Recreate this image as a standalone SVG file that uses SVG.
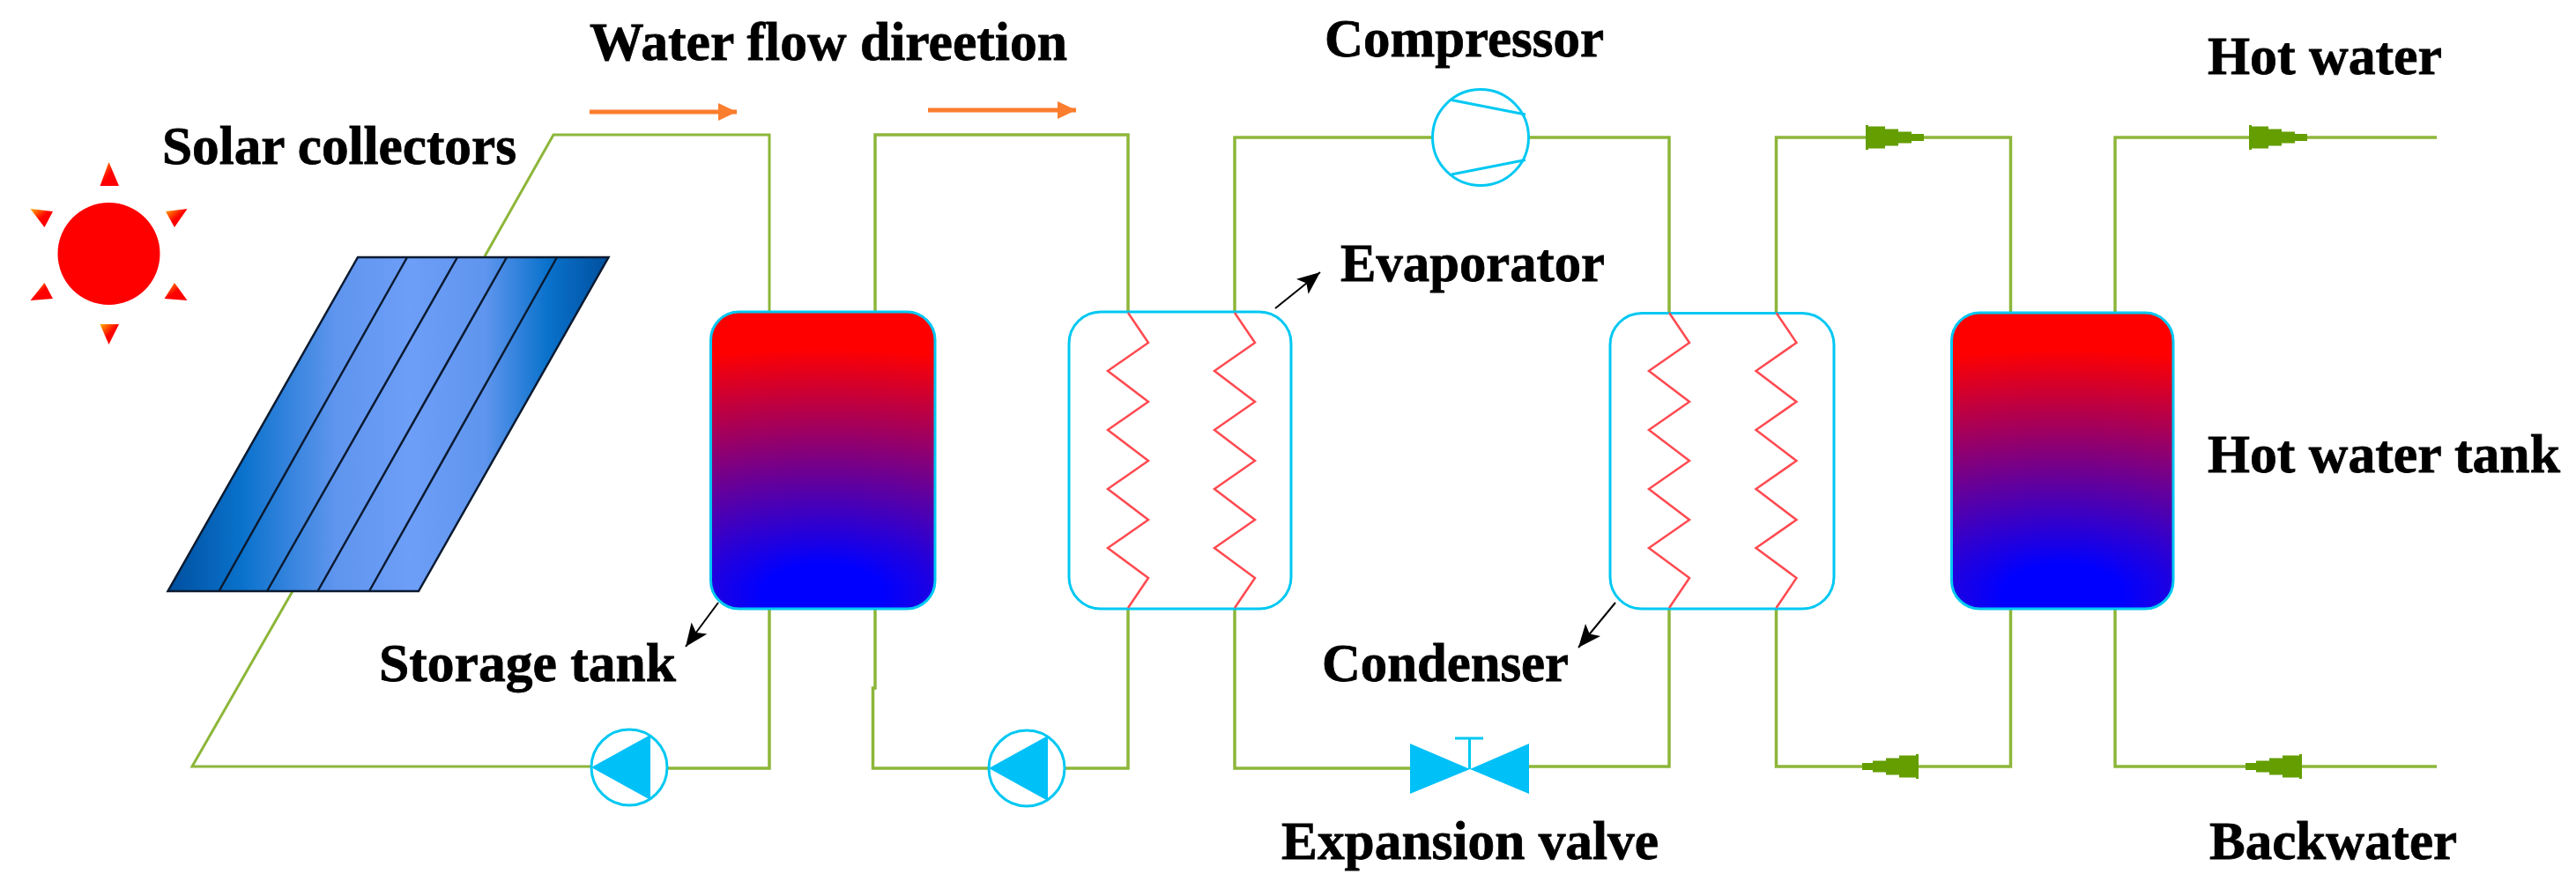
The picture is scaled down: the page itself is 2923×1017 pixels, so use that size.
<svg xmlns="http://www.w3.org/2000/svg" width="2923" height="1017" viewBox="0 0 2923 1017">
<style>
.pipe{fill:none;stroke:#8db63a;stroke-width:3.5;stroke-linejoin:miter}
.leader{fill:none;stroke:#000;stroke-width:2;marker-end:url(#blackHead)}
.flow{fill:none;stroke:#fb7d2e;stroke-width:5;marker-end:url(#orangeHead)}
.cyan{fill:none;stroke:#00c8f2;stroke-width:3}
.fillc{fill:#00c0f8;stroke:none}
.tank{fill:url(#tankGrad);stroke:#00c8f2;stroke-width:3}
.zig{fill:none;stroke:#ff4a50;stroke-width:2.5}
.valve{fill:#649e00;stroke:none}
.ray{fill:url(#rayGrad)}
.pline{fill:none;stroke:#0b1a30;stroke-width:2.5}
text{font-family:"Liberation Serif","Times New Roman",serif;font-weight:bold;font-size:62px;fill:#000;stroke:#000;stroke-width:.8}
</style>
<defs>
<marker id="blackHead" markerUnits="userSpaceOnUse" markerWidth="30" markerHeight="30" refX="26" refY="11" orient="auto"><path d="M0 0L26 11L0 22L6 11Z" fill="#000"/></marker>
<marker id="orangeHead" markerUnits="userSpaceOnUse" markerWidth="24" markerHeight="24" refX="21" refY="10" orient="auto"><path d="M0 0L21 10L0 20Z" fill="#fb7d2e"/></marker>
<radialGradient id="tankGrad" cx="0" cy="0" r="0.9" gradientTransform="translate(.5 .95) scale(2.7 1)">
<stop offset=".11" stop-color="#0000ff"/><stop offset=".92" stop-color="#ff0000"/>
</radialGradient>
<linearGradient id="panelGrad" gradientUnits="userSpaceOnUse" x1="190" y1="0" x2="691" y2="0">
<stop offset="0" stop-color="#004f9e"/><stop offset=".17" stop-color="#0a72cc"/><stop offset=".38" stop-color="#5f95ee"/><stop offset=".55" stop-color="#6d9ef8"/><stop offset=".72" stop-color="#5f95ee"/><stop offset=".86" stop-color="#0a72cc"/><stop offset="1" stop-color="#004f9e"/>
</linearGradient>
<linearGradient id="rayGrad" x1="0" y1="0" x2="1" y2="1"><stop offset="0" stop-color="#ffb000"/><stop offset=".5" stop-color="#ff0000"/><stop offset="1" stop-color="#ff0000"/></linearGradient>
<path id="zigzag" class="zig" d="M0 355L23 389L-23 421L23 456L-23 488L23 523L-23 555L23 590L-23 622L23 656L0 690"/>
<path id="checkR" class="valve" d="M0 -14L3 -14V-12.500H22V-9.500H37V-6.500H52V-4H66V4H52V6.500H37V9.500H22V12.500H3V14H0Z"/>
<path id="checkL" class="valve" d="M0 -14L-3 -14V-12.500H-22V-9.500H-37V-6.500H-52V-4H-64V4H-52V6.500H-37V9.500H-22V12.500H-3V14H0Z"/>
<g id="pumpShape"><circle class="cyan" r="43"/><path class="fillc" d="M-43 0L24 -37L24 37Z"/></g>
</defs>
<rect width="2923" height="1017" fill="#fff"/>

<g id="connectors">
<path class="pipe" style="stroke-width:3" d="M550 291L628 153H873V354"/>
<path class="pipe" style="stroke-width:3" d="M332 671L218 870H671"/>
<path class="pipe" d="M757 872H873V691"/>
<path class="pipe" d="M993 354V153H1280V354"/>
<path class="pipe" d="M993 691V781H990.500V872H1122"/>
<path class="pipe" d="M1209 872H1280V691"/>
<path class="pipe" d="M1401 354V156H1626"/>
<path class="pipe" d="M1735 156H1894V355"/>
<path class="pipe" d="M1401 691V872H1600"/>
<path class="pipe" d="M1735 870H1894V691"/>
<path class="pipe" d="M2015.500 355V156H2281.500V355"/>
<path class="pipe" d="M2015.500 691V870H2281.500V691"/>
<path class="pipe" d="M2400 355V156H2765"/>
<path class="pipe" d="M2400 691V870H2765"/>
<path class="leader" d="M815 684L778 734"/>
<path class="leader" d="M1447 350L1498 309"/>
<path class="leader" d="M1833 684L1791 735"/>
<path class="flow" d="M669 127H836"/>
<path class="flow" d="M1053 125H1221"/>
</g>

<g id="sun">
<circle cx="123.500" cy="288" r="58" fill="#ff0000"/>
<path class="ray" d="M123.500 184L113.500 211H135Z"/>
<path class="ray" d="M34.500 237L60 240L50.500 258Z"/>
<path class="ray" d="M212.500 237L188 240L198 258Z"/>
<path class="ray" d="M34.500 341L60 339L50.500 321Z"/>
<path class="ray" d="M212.500 341L186.500 339L198 321Z"/>
<path class="ray" d="M123.500 391L113.500 368H135Z"/>
</g>

<g id="solar-collectors">
<path fill="url(#panelGrad)" stroke="#0b1a30" stroke-width="2.500" d="M406 292H690.500L475 671H190.500Z"/>
<path class="pline" d="M462 292L248.500 671M519 292L303 671M575 292L360.500 671M632 292L419 671"/>
<text x="184" y="186" textLength="402" lengthAdjust="spacingAndGlyphs">Solar collectors</text>
</g>

<g id="storage-tank">
<rect class="tank" x="806.500" y="354" width="254.500" height="337" rx="32"/>
<text x="430" y="773" textLength="337" lengthAdjust="spacingAndGlyphs">Storage tank</text>
</g>

<g id="pump-1"><use href="#pumpShape" x="714" y="871"/></g>
<g id="pump-2"><use href="#pumpShape" x="1165" y="872"/></g>

<g id="evaporator">
<rect class="cyan" x="1213" y="354" width="252" height="337" rx="36"/>
<use href="#zigzag" x="1280"/>
<use href="#zigzag" x="1401"/>
<text x="1521" y="319" textLength="300" lengthAdjust="spacingAndGlyphs">Evaporator</text>
</g>

<g id="compressor">
<circle class="cyan" cx="1680" cy="156" r="54.500"/>
<path class="cyan" d="M1647 113.500L1731 130M1647 198L1731 181.500"/>
<text x="1503" y="64" textLength="317" lengthAdjust="spacingAndGlyphs">Compressor</text>
</g>

<g id="expansion-valve">
<path class="fillc" d="M1600 844L1668 873L1735 844V901L1668 873L1600 901Z"/>
<path class="cyan" d="M1667.500 873V838M1651 838H1683"/>
<text x="1454" y="975" textLength="428" lengthAdjust="spacingAndGlyphs">Expansion valve</text>
</g>

<g id="condenser">
<rect class="cyan" x="1827" y="355.500" width="254" height="335.500" rx="36"/>
<use href="#zigzag" x="1894"/>
<use href="#zigzag" x="2015.500"/>
<text x="1500" y="773" textLength="280" lengthAdjust="spacingAndGlyphs">Condenser</text>
</g>

<g id="hot-water-tank">
<rect class="tank" x="2214.500" y="355" width="251.500" height="336" rx="32"/>
<text x="2505" y="536" textLength="400" lengthAdjust="spacingAndGlyphs">Hot water tank</text>
</g>

<g id="check-valves">
<use href="#checkR" x="2117" y="156"/>
<use href="#checkR" x="2552" y="156"/>
<use href="#checkL" x="2177" y="870"/>
<use href="#checkL" x="2612" y="870"/>
</g>

<g id="labels">
<text x="669" y="68" textLength="542" lengthAdjust="spacingAndGlyphs">Water flow direetion</text>
<text x="2505" y="84" textLength="266" lengthAdjust="spacingAndGlyphs">Hot water</text>
<text x="2507" y="975" textLength="281" lengthAdjust="spacingAndGlyphs">Backwater</text>
</g>
</svg>
